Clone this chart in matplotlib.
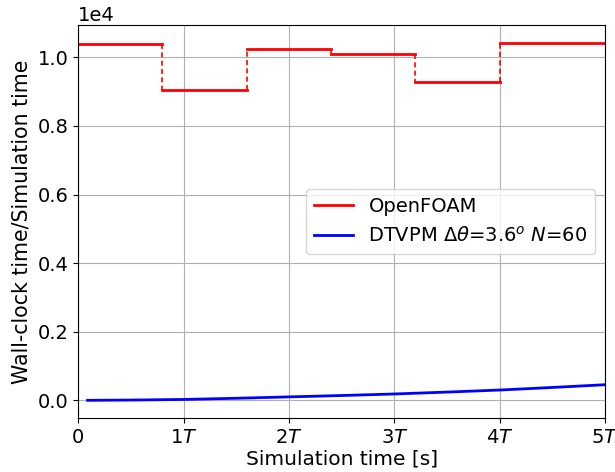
import numpy as np
import matplotlib.pyplot as plt

# OpenFOAM: wall-clock / simulation time per run chunk (in units of T)
of_edges = [0.0, 0.8, 1.6, 2.4, 3.2, 4.0, 5.0]
of_vals = [10390, 9050, 10250, 10090, 9290, 10420]

# DTVPM curve
dt_t = [0.09, 0.5, 1.0, 1.5, 2.0, 2.5, 3.0, 3.5, 4.0, 4.5, 5.0]
dt_vals = [0, 8, 25, 60, 100, 140, 185, 240, 300, 375, 455]

xticks = [0, 1, 2, 3, 4, 5]
xticklabels = ['0', '1$T$', '2$T$', '3$T$', '4$T$', '5$T$']

plt.rcParams['font.size'] = 14

fig, ax = plt.subplots(figsize=(6.15, 4.72), dpi=100)

# horizontal pieces
for i in range(len(of_vals)):
    lbl = 'OpenFOAM' if i == 0 else None
    ax.plot([of_edges[i], of_edges[i + 1]], [of_vals[i], of_vals[i]],
            color='red', lw=2, label=lbl)
# dashed jumps between pieces
for i in range(1, len(of_vals)):
    ax.plot([of_edges[i], of_edges[i]], [of_vals[i - 1], of_vals[i]],
            color='red', lw=1.2, ls=(0, (3, 2)))

ax.plot(dt_t, dt_vals, color='blue', lw=2,
        label=r'DTVPM $\Delta\theta$=3.6$^o$ $N$=60')

ax.set_xlim(0, 5)
ax.set_xticks(xticks)
ax.set_xticklabels(xticklabels)
ax.ticklabel_format(axis='y', style='sci', scilimits=(0, 0))
ax.set_xlabel('Simulation time [s]', labelpad=2, fontsize=14.5)
ax.set_ylabel('Wall-clock time/Simulation time', fontsize=14.8)
ax.grid(True, which='both')
ax.legend(loc='center right', fontsize=14)

fig.subplots_adjust(left=0.127, right=0.984, top=0.947, bottom=0.114)
fig.savefig('out.png')
